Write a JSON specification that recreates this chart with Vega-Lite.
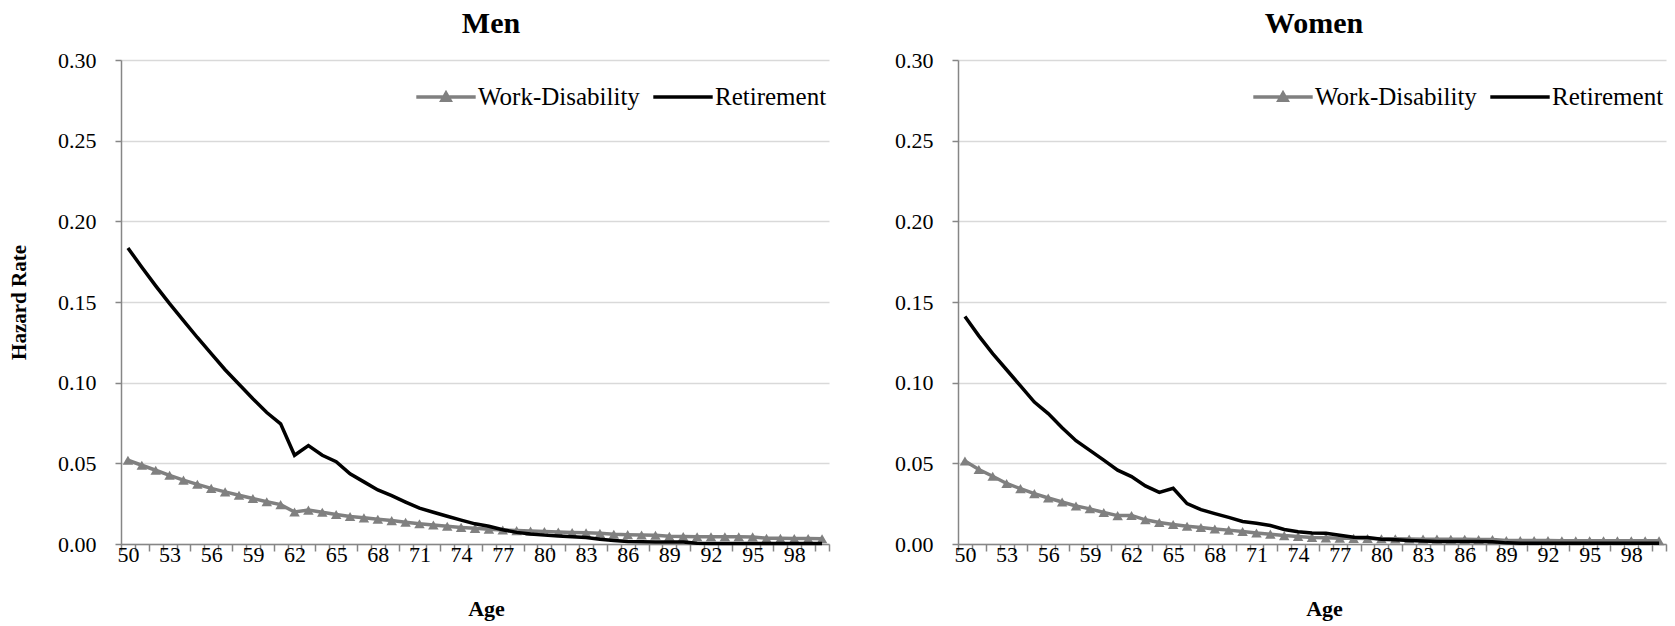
{
"$schema": "https://vega.github.io/schema/vega-lite/v6.json",
"padding": {"left": 8, "top": 9, "right": 5, "bottom": 5},
"background": "white",
"config": {
  "font": "Liberation Serif",
  "view": {"stroke": null},
  "axis": {"labelFont": "Liberation Serif", "labelFontSize": 22, "labelColor": "#000000", "titleFont": "Liberation Serif", "titleFontSize": 22, "titleFontWeight": "bold", "titleColor": "#000000", "domainColor": "#868686", "domainWidth": 1.5, "tickColor": "#868686", "tickWidth": 1.5}
},
"datasets": {"d": [
{"sex":"Men","series":"Work-Disability","age":50,"rate":0.0519},
{"sex":"Men","series":"Work-Disability","age":51,"rate":0.0488},
{"sex":"Men","series":"Work-Disability","age":52,"rate":0.0457},
{"sex":"Men","series":"Work-Disability","age":53,"rate":0.0426},
{"sex":"Men","series":"Work-Disability","age":54,"rate":0.0396},
{"sex":"Men","series":"Work-Disability","age":55,"rate":0.0370},
{"sex":"Men","series":"Work-Disability","age":56,"rate":0.0345},
{"sex":"Men","series":"Work-Disability","age":57,"rate":0.0323},
{"sex":"Men","series":"Work-Disability","age":58,"rate":0.0302},
{"sex":"Men","series":"Work-Disability","age":59,"rate":0.0282},
{"sex":"Men","series":"Work-Disability","age":60,"rate":0.0262},
{"sex":"Men","series":"Work-Disability","age":61,"rate":0.0244},
{"sex":"Men","series":"Work-Disability","age":62,"rate":0.0198},
{"sex":"Men","series":"Work-Disability","age":63,"rate":0.0210},
{"sex":"Men","series":"Work-Disability","age":64,"rate":0.0197},
{"sex":"Men","series":"Work-Disability","age":65,"rate":0.0183},
{"sex":"Men","series":"Work-Disability","age":66,"rate":0.0170},
{"sex":"Men","series":"Work-Disability","age":67,"rate":0.0162},
{"sex":"Men","series":"Work-Disability","age":68,"rate":0.0153},
{"sex":"Men","series":"Work-Disability","age":69,"rate":0.0145},
{"sex":"Men","series":"Work-Disability","age":70,"rate":0.0135},
{"sex":"Men","series":"Work-Disability","age":71,"rate":0.0125},
{"sex":"Men","series":"Work-Disability","age":72,"rate":0.0118},
{"sex":"Men","series":"Work-Disability","age":73,"rate":0.0110},
{"sex":"Men","series":"Work-Disability","age":74,"rate":0.0103},
{"sex":"Men","series":"Work-Disability","age":75,"rate":0.0097},
{"sex":"Men","series":"Work-Disability","age":76,"rate":0.0091},
{"sex":"Men","series":"Work-Disability","age":77,"rate":0.0087},
{"sex":"Men","series":"Work-Disability","age":78,"rate":0.0083},
{"sex":"Men","series":"Work-Disability","age":79,"rate":0.0080},
{"sex":"Men","series":"Work-Disability","age":80,"rate":0.0077},
{"sex":"Men","series":"Work-Disability","age":81,"rate":0.0074},
{"sex":"Men","series":"Work-Disability","age":82,"rate":0.0071},
{"sex":"Men","series":"Work-Disability","age":83,"rate":0.0069},
{"sex":"Men","series":"Work-Disability","age":84,"rate":0.0066},
{"sex":"Men","series":"Work-Disability","age":85,"rate":0.0060},
{"sex":"Men","series":"Work-Disability","age":86,"rate":0.0058},
{"sex":"Men","series":"Work-Disability","age":87,"rate":0.0056},
{"sex":"Men","series":"Work-Disability","age":88,"rate":0.0054},
{"sex":"Men","series":"Work-Disability","age":89,"rate":0.0048},
{"sex":"Men","series":"Work-Disability","age":90,"rate":0.0046},
{"sex":"Men","series":"Work-Disability","age":91,"rate":0.0045},
{"sex":"Men","series":"Work-Disability","age":92,"rate":0.0045},
{"sex":"Men","series":"Work-Disability","age":93,"rate":0.0045},
{"sex":"Men","series":"Work-Disability","age":94,"rate":0.0045},
{"sex":"Men","series":"Work-Disability","age":95,"rate":0.0044},
{"sex":"Men","series":"Work-Disability","age":96,"rate":0.0036},
{"sex":"Men","series":"Work-Disability","age":97,"rate":0.0035},
{"sex":"Men","series":"Work-Disability","age":98,"rate":0.0034},
{"sex":"Men","series":"Work-Disability","age":99,"rate":0.0034},
{"sex":"Men","series":"Work-Disability","age":100,"rate":0.0033},
{"sex":"Men","series":"Retirement","age":50,"rate":0.1835},
{"sex":"Men","series":"Retirement","age":51,"rate":0.1715},
{"sex":"Men","series":"Retirement","age":52,"rate":0.1600},
{"sex":"Men","series":"Retirement","age":53,"rate":0.1490},
{"sex":"Men","series":"Retirement","age":54,"rate":0.1385},
{"sex":"Men","series":"Retirement","age":55,"rate":0.1280},
{"sex":"Men","series":"Retirement","age":56,"rate":0.1180},
{"sex":"Men","series":"Retirement","age":57,"rate":0.1080},
{"sex":"Men","series":"Retirement","age":58,"rate":0.0990},
{"sex":"Men","series":"Retirement","age":59,"rate":0.0900},
{"sex":"Men","series":"Retirement","age":60,"rate":0.0815},
{"sex":"Men","series":"Retirement","age":61,"rate":0.0745},
{"sex":"Men","series":"Retirement","age":62,"rate":0.0550},
{"sex":"Men","series":"Retirement","age":63,"rate":0.0610},
{"sex":"Men","series":"Retirement","age":64,"rate":0.0550},
{"sex":"Men","series":"Retirement","age":65,"rate":0.0510},
{"sex":"Men","series":"Retirement","age":66,"rate":0.0435},
{"sex":"Men","series":"Retirement","age":67,"rate":0.0385},
{"sex":"Men","series":"Retirement","age":68,"rate":0.0335},
{"sex":"Men","series":"Retirement","age":69,"rate":0.0300},
{"sex":"Men","series":"Retirement","age":70,"rate":0.0260},
{"sex":"Men","series":"Retirement","age":71,"rate":0.0222},
{"sex":"Men","series":"Retirement","age":72,"rate":0.0197},
{"sex":"Men","series":"Retirement","age":73,"rate":0.0172},
{"sex":"Men","series":"Retirement","age":74,"rate":0.0148},
{"sex":"Men","series":"Retirement","age":75,"rate":0.0125},
{"sex":"Men","series":"Retirement","age":76,"rate":0.0110},
{"sex":"Men","series":"Retirement","age":77,"rate":0.0088},
{"sex":"Men","series":"Retirement","age":78,"rate":0.0072},
{"sex":"Men","series":"Retirement","age":79,"rate":0.0062},
{"sex":"Men","series":"Retirement","age":80,"rate":0.0055},
{"sex":"Men","series":"Retirement","age":81,"rate":0.0050},
{"sex":"Men","series":"Retirement","age":82,"rate":0.0045},
{"sex":"Men","series":"Retirement","age":83,"rate":0.0040},
{"sex":"Men","series":"Retirement","age":84,"rate":0.0030},
{"sex":"Men","series":"Retirement","age":85,"rate":0.0022},
{"sex":"Men","series":"Retirement","age":86,"rate":0.0015},
{"sex":"Men","series":"Retirement","age":87,"rate":0.0014},
{"sex":"Men","series":"Retirement","age":88,"rate":0.0013},
{"sex":"Men","series":"Retirement","age":89,"rate":0.0013},
{"sex":"Men","series":"Retirement","age":90,"rate":0.0012},
{"sex":"Men","series":"Retirement","age":91,"rate":0.0004},
{"sex":"Men","series":"Retirement","age":92,"rate":0.0003},
{"sex":"Men","series":"Retirement","age":93,"rate":0.0003},
{"sex":"Men","series":"Retirement","age":94,"rate":0.0003},
{"sex":"Men","series":"Retirement","age":95,"rate":0.0003},
{"sex":"Men","series":"Retirement","age":96,"rate":0.0003},
{"sex":"Men","series":"Retirement","age":97,"rate":0.0003},
{"sex":"Men","series":"Retirement","age":98,"rate":0.0003},
{"sex":"Men","series":"Retirement","age":99,"rate":0.0003},
{"sex":"Men","series":"Retirement","age":100,"rate":0.0003},
{"sex":"Women","series":"Work-Disability","age":50,"rate":0.0514},
{"sex":"Women","series":"Work-Disability","age":51,"rate":0.0462},
{"sex":"Women","series":"Work-Disability","age":52,"rate":0.0420},
{"sex":"Women","series":"Work-Disability","age":53,"rate":0.0375},
{"sex":"Women","series":"Work-Disability","age":54,"rate":0.0343},
{"sex":"Women","series":"Work-Disability","age":55,"rate":0.0312},
{"sex":"Women","series":"Work-Disability","age":56,"rate":0.0285},
{"sex":"Women","series":"Work-Disability","age":57,"rate":0.0260},
{"sex":"Women","series":"Work-Disability","age":58,"rate":0.0236},
{"sex":"Women","series":"Work-Disability","age":59,"rate":0.0218},
{"sex":"Women","series":"Work-Disability","age":60,"rate":0.0195},
{"sex":"Women","series":"Work-Disability","age":61,"rate":0.0176},
{"sex":"Women","series":"Work-Disability","age":62,"rate":0.0177},
{"sex":"Women","series":"Work-Disability","age":63,"rate":0.0150},
{"sex":"Women","series":"Work-Disability","age":64,"rate":0.0133},
{"sex":"Women","series":"Work-Disability","age":65,"rate":0.0121},
{"sex":"Women","series":"Work-Disability","age":66,"rate":0.0110},
{"sex":"Women","series":"Work-Disability","age":67,"rate":0.0102},
{"sex":"Women","series":"Work-Disability","age":68,"rate":0.0093},
{"sex":"Women","series":"Work-Disability","age":69,"rate":0.0086},
{"sex":"Women","series":"Work-Disability","age":70,"rate":0.0077},
{"sex":"Women","series":"Work-Disability","age":71,"rate":0.0068},
{"sex":"Women","series":"Work-Disability","age":72,"rate":0.0061},
{"sex":"Women","series":"Work-Disability","age":73,"rate":0.0052},
{"sex":"Women","series":"Work-Disability","age":74,"rate":0.0046},
{"sex":"Women","series":"Work-Disability","age":75,"rate":0.0041},
{"sex":"Women","series":"Work-Disability","age":76,"rate":0.0038},
{"sex":"Women","series":"Work-Disability","age":77,"rate":0.0036},
{"sex":"Women","series":"Work-Disability","age":78,"rate":0.0035},
{"sex":"Women","series":"Work-Disability","age":79,"rate":0.0034},
{"sex":"Women","series":"Work-Disability","age":80,"rate":0.0033},
{"sex":"Women","series":"Work-Disability","age":81,"rate":0.0032},
{"sex":"Women","series":"Work-Disability","age":82,"rate":0.0031},
{"sex":"Women","series":"Work-Disability","age":83,"rate":0.0030},
{"sex":"Women","series":"Work-Disability","age":84,"rate":0.0030},
{"sex":"Women","series":"Work-Disability","age":85,"rate":0.0029},
{"sex":"Women","series":"Work-Disability","age":86,"rate":0.0029},
{"sex":"Women","series":"Work-Disability","age":87,"rate":0.0028},
{"sex":"Women","series":"Work-Disability","age":88,"rate":0.0028},
{"sex":"Women","series":"Work-Disability","age":89,"rate":0.0022},
{"sex":"Women","series":"Work-Disability","age":90,"rate":0.0021},
{"sex":"Women","series":"Work-Disability","age":91,"rate":0.0021},
{"sex":"Women","series":"Work-Disability","age":92,"rate":0.0021},
{"sex":"Women","series":"Work-Disability","age":93,"rate":0.0020},
{"sex":"Women","series":"Work-Disability","age":94,"rate":0.0020},
{"sex":"Women","series":"Work-Disability","age":95,"rate":0.0020},
{"sex":"Women","series":"Work-Disability","age":96,"rate":0.0020},
{"sex":"Women","series":"Work-Disability","age":97,"rate":0.0020},
{"sex":"Women","series":"Work-Disability","age":98,"rate":0.0020},
{"sex":"Women","series":"Work-Disability","age":99,"rate":0.0020},
{"sex":"Women","series":"Work-Disability","age":100,"rate":0.0020},
{"sex":"Women","series":"Retirement","age":50,"rate":0.1410},
{"sex":"Women","series":"Retirement","age":51,"rate":0.1290},
{"sex":"Women","series":"Retirement","age":52,"rate":0.1180},
{"sex":"Women","series":"Retirement","age":53,"rate":0.1080},
{"sex":"Women","series":"Retirement","age":54,"rate":0.0980},
{"sex":"Women","series":"Retirement","age":55,"rate":0.0880},
{"sex":"Women","series":"Retirement","age":56,"rate":0.0808},
{"sex":"Women","series":"Retirement","age":57,"rate":0.0720},
{"sex":"Women","series":"Retirement","age":58,"rate":0.0640},
{"sex":"Women","series":"Retirement","age":59,"rate":0.0580},
{"sex":"Women","series":"Retirement","age":60,"rate":0.0520},
{"sex":"Women","series":"Retirement","age":61,"rate":0.0458},
{"sex":"Women","series":"Retirement","age":62,"rate":0.0418},
{"sex":"Women","series":"Retirement","age":63,"rate":0.0360},
{"sex":"Women","series":"Retirement","age":64,"rate":0.0320},
{"sex":"Women","series":"Retirement","age":65,"rate":0.0345},
{"sex":"Women","series":"Retirement","age":66,"rate":0.0250},
{"sex":"Women","series":"Retirement","age":67,"rate":0.0213},
{"sex":"Women","series":"Retirement","age":68,"rate":0.0188},
{"sex":"Women","series":"Retirement","age":69,"rate":0.0165},
{"sex":"Women","series":"Retirement","age":70,"rate":0.0140},
{"sex":"Women","series":"Retirement","age":71,"rate":0.0128},
{"sex":"Women","series":"Retirement","age":72,"rate":0.0115},
{"sex":"Women","series":"Retirement","age":73,"rate":0.0090},
{"sex":"Women","series":"Retirement","age":74,"rate":0.0076},
{"sex":"Women","series":"Retirement","age":75,"rate":0.0068},
{"sex":"Women","series":"Retirement","age":76,"rate":0.0066},
{"sex":"Women","series":"Retirement","age":77,"rate":0.0054},
{"sex":"Women","series":"Retirement","age":78,"rate":0.0042},
{"sex":"Women","series":"Retirement","age":79,"rate":0.0040},
{"sex":"Women","series":"Retirement","age":80,"rate":0.0030},
{"sex":"Women","series":"Retirement","age":81,"rate":0.0026},
{"sex":"Women","series":"Retirement","age":82,"rate":0.0022},
{"sex":"Women","series":"Retirement","age":83,"rate":0.0018},
{"sex":"Women","series":"Retirement","age":84,"rate":0.0015},
{"sex":"Women","series":"Retirement","age":85,"rate":0.0015},
{"sex":"Women","series":"Retirement","age":86,"rate":0.0015},
{"sex":"Women","series":"Retirement","age":87,"rate":0.0015},
{"sex":"Women","series":"Retirement","age":88,"rate":0.0014},
{"sex":"Women","series":"Retirement","age":89,"rate":0.0007},
{"sex":"Women","series":"Retirement","age":90,"rate":0.0005},
{"sex":"Women","series":"Retirement","age":91,"rate":0.0005},
{"sex":"Women","series":"Retirement","age":92,"rate":0.0005},
{"sex":"Women","series":"Retirement","age":93,"rate":0.0005},
{"sex":"Women","series":"Retirement","age":94,"rate":0.0005},
{"sex":"Women","series":"Retirement","age":95,"rate":0.0005},
{"sex":"Women","series":"Retirement","age":96,"rate":0.0005},
{"sex":"Women","series":"Retirement","age":97,"rate":0.0005},
{"sex":"Women","series":"Retirement","age":98,"rate":0.0005},
{"sex":"Women","series":"Retirement","age":99,"rate":0.0005},
{"sex":"Women","series":"Retirement","age":100,"rate":0.0005}
]},
"spacing": 58,
"resolve": {"scale": {"color": "independent"}, "legend": {"color": "independent"}},
"hconcat": [
{
  "width": 708, "height": 484,
  "title": {"text": "Men", "font": "Liberation Serif", "fontSize": 30, "fontWeight": "bold", "color": "#000000", "anchor": "middle", "dx": 16, "offset": -14, "baseline": "alphabetic"},
  "data": {"name": "d"},
  "transform": [{"filter": "datum.sex === 'Men'"}],
  "encoding": {
    "x": {"field": "age", "type": "quantitative", "scale": {"domain": [49.5, 100.5], "nice": false, "zero": false},
      "axis": {"values": [49.5,50.5,51.5,52.5,53.5,54.5,55.5,56.5,57.5,58.5,59.5,60.5,61.5,62.5,63.5,64.5,65.5,66.5,67.5,68.5,69.5,70.5,71.5,72.5,73.5,74.5,75.5,76.5,77.5,78.5,79.5,80.5,81.5,82.5,83.5,84.5,85.5,86.5,87.5,88.5,89.5,90.5,91.5,92.5,93.5,94.5,95.5,96.5,97.5,98.5,99.5,100.5],
        "labelExpr": "(datum.value + 0.5 - 50) % 3 === 0 && datum.value < 99 ? format(datum.value + 0.5, 'd') : ''",
        "labelOffset": 6.94, "tickSize": 7, "labelPadding": -7, "grid": false, "labelFlush": false, "labelOverlap": false, "labelBound": false,
        "title": "Age", "titlePadding": 33, "titleX": 365}},
    "y": {"field": "rate", "type": "quantitative", "scale": {"domain": [0, 0.3], "nice": false},
      "axis": {"values": [0, 0.05, 0.1, 0.15, 0.2, 0.25, 0.3], "format": ".2f", "grid": true, "gridColor": "#d9d9d9", "gridWidth": 1.5, "tickSize": 6, "labelPadding": 19, "title": "Hazard Rate", "titleFontSize": 21, "titlePadding": 28}}
  },
  "layer": [
    {"transform": [{"filter": "datum.series === 'Work-Disability'"}],
     "mark": {"type": "point", "shape": "triangle-up", "filled": true, "size": 110, "color": "#808080", "opacity": 1}},
    {"mark": {"type": "line", "strokeWidth": 3.5},
     "encoding": {"color": {"field": "series", "type": "nominal", "sort": null,
       "scale": {"domain": ["Work-Disability", "Retirement"], "range": ["#808080", "#000000"]},
       "legend": {"orient": "top-right", "offset": 2, "padding": 0, "title": null, "direction": "horizontal",
         "symbolType": "M-0.9,0H0.9", "symbolSize": 4356, "symbolStrokeWidth": 3.5,
         "labelFont": "Liberation Serif", "labelFontSize": 25, "labelLimit": 400, "labelColor": "#000000", "labelOffset": -3, "columnPadding": 6,
         "encode": {"symbols": {"update": {
           "shape": {"signal": "datum.value === 'Work-Disability' ? 'M-0.9,0H0.9M-0.12,0.1L0,-0.11L0.12,0.1Z' : 'M-0.9,0H0.9'"},
           "fill": {"signal": "datum.value === 'Work-Disability' ? '#808080' : 'transparent'"}}}}}}}}
  ]
},
{
  "width": 708, "height": 484,
  "title": {"text": "Women", "font": "Liberation Serif", "fontSize": 30, "fontWeight": "bold", "color": "#000000", "anchor": "middle", "dx": 2, "offset": -14, "baseline": "alphabetic"},
  "data": {"name": "d"},
  "transform": [{"filter": "datum.sex === 'Women'"}],
  "encoding": {
    "x": {"field": "age", "type": "quantitative", "scale": {"domain": [49.5, 100.5], "nice": false, "zero": false},
      "axis": {"values": [49.5,50.5,51.5,52.5,53.5,54.5,55.5,56.5,57.5,58.5,59.5,60.5,61.5,62.5,63.5,64.5,65.5,66.5,67.5,68.5,69.5,70.5,71.5,72.5,73.5,74.5,75.5,76.5,77.5,78.5,79.5,80.5,81.5,82.5,83.5,84.5,85.5,86.5,87.5,88.5,89.5,90.5,91.5,92.5,93.5,94.5,95.5,96.5,97.5,98.5,99.5,100.5],
        "labelExpr": "(datum.value + 0.5 - 50) % 3 === 0 && datum.value < 99 ? format(datum.value + 0.5, 'd') : ''",
        "labelOffset": 6.94, "tickSize": 7, "labelPadding": -7, "grid": false, "labelFlush": false, "labelOverlap": false, "labelBound": false,
        "title": "Age", "titlePadding": 33, "titleX": 366}},
    "y": {"field": "rate", "type": "quantitative", "scale": {"domain": [0, 0.3], "nice": false},
      "axis": {"values": [0, 0.05, 0.1, 0.15, 0.2, 0.25, 0.3], "format": ".2f", "grid": true, "gridColor": "#d9d9d9", "gridWidth": 1.5, "tickSize": 6, "labelPadding": 19, "title": null}}
  },
  "layer": [
    {"transform": [{"filter": "datum.series === 'Work-Disability'"}],
     "mark": {"type": "point", "shape": "triangle-up", "filled": true, "size": 110, "color": "#808080", "opacity": 1}},
    {"mark": {"type": "line", "strokeWidth": 3.5},
     "encoding": {"color": {"field": "series", "type": "nominal", "sort": null,
       "scale": {"domain": ["Work-Disability", "Retirement"], "range": ["#808080", "#000000"]},
       "legend": {"orient": "top-right", "offset": 2, "padding": 0, "title": null, "direction": "horizontal",
         "symbolType": "M-0.9,0H0.9", "symbolSize": 4356, "symbolStrokeWidth": 3.5,
         "labelFont": "Liberation Serif", "labelFontSize": 25, "labelLimit": 400, "labelColor": "#000000", "labelOffset": -3, "columnPadding": 6,
         "encode": {"symbols": {"update": {
           "shape": {"signal": "datum.value === 'Work-Disability' ? 'M-0.9,0H0.9M-0.12,0.1L0,-0.11L0.12,0.1Z' : 'M-0.9,0H0.9'"},
           "fill": {"signal": "datum.value === 'Work-Disability' ? '#808080' : 'transparent'"}}}}}}}}
  ]
}
]
}
